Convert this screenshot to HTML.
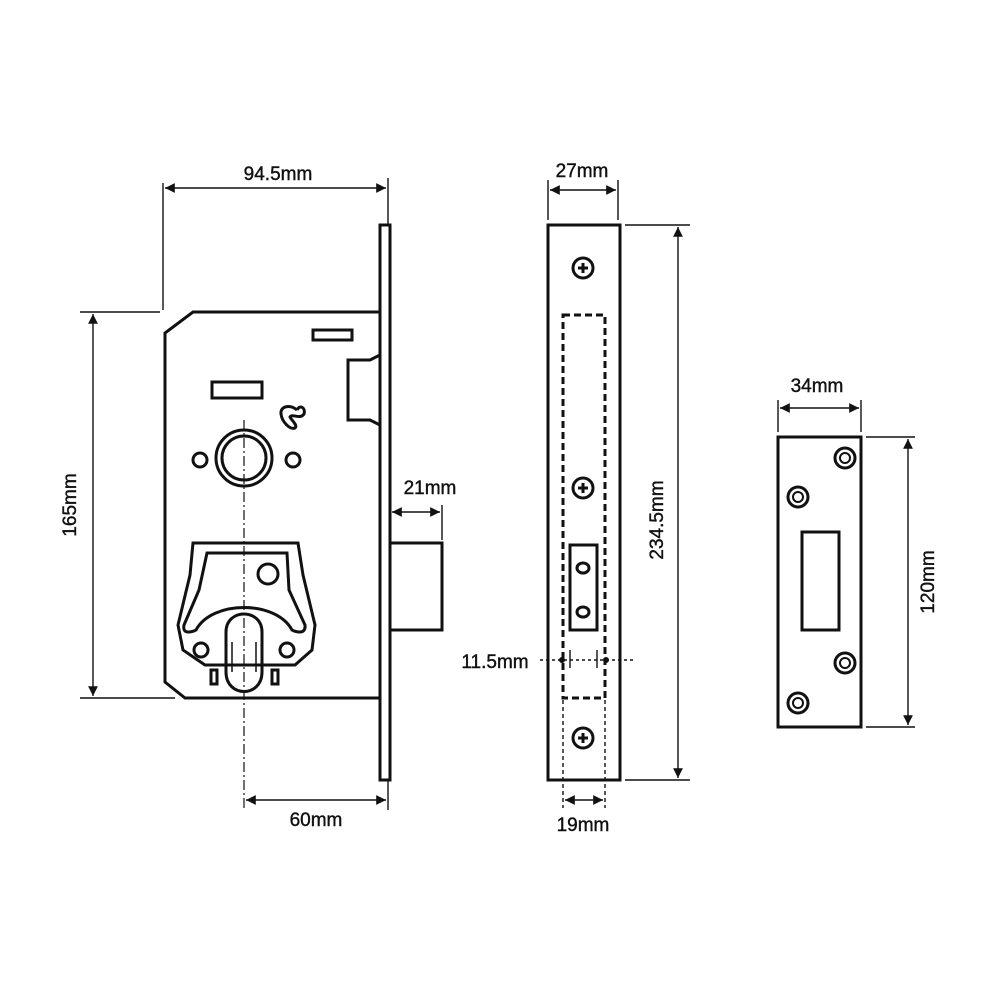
<!DOCTYPE html>
<html><head><style>body{margin:0;background:#fff}svg{display:block}text{font-family:"Liberation Sans",sans-serif;font-size:19px;fill:#111;stroke:#111;stroke-width:0.4}</style></head>
<body>
<svg width="1000" height="1000" viewBox="0 0 1000 1000" xmlns="http://www.w3.org/2000/svg">
<defs><marker id="a" viewBox="0 0 10 10" refX="10" refY="5" markerWidth="9" markerHeight="7" orient="auto-start-reverse"><path d="M0,0L10,5L0,10z" fill="#111"/></marker></defs>
<g fill="none" stroke="#111" stroke-width="3">
<path d="M193,312 H380 V698 H185 L165,682 V333 Z"/>
<rect x="380" y="225" width="10" height="555"/>
<path d="M380,355 L370,360 H348 V420 H370 L380,425"/>
<rect x="390" y="543" width="52" height="87"/>
<rect x="313" y="330" width="39" height="10"/>
<rect x="212" y="382" width="50" height="16"/>
<circle cx="244" cy="458" r="28"/><circle cx="244" cy="458" r="22"/>
<circle cx="200" cy="460" r="7"/><circle cx="293" cy="460" r="7"/>
<path d="M297,410 C290,404 280,406 281,414 C282,422 290,430 295,428 C298,425 292,421 290,417 C292,413 300,420 304,414 C306,408 300,404 297,410"/>
<path d="M193,543 H298 L303,575 L315,625 L312,650 L295,665 L230,665 L205,665 L183,650 L178,625 L190,575 Z"/>
<path d="M207,553 H287 L289,590 L305,625 C306,635 296,632 292,630 C276,600 212,600 196,630 C192,632 182,635 184,625 L199,590 Z"/>
<rect x="211" y="670" width="6" height="14"/><rect x="272" y="670" width="6" height="14"/>
<circle cx="268" cy="574" r="10"/>
<circle cx="201" cy="650" r="7"/><circle cx="287" cy="650" r="7"/>
<path d="M226,632 C226,608 262,608 262,632 V672 C262,698 226,698 226,672 Z"/>
<path d="M232,642 V672 M256,642 V672" stroke-width="1.5"/>
<rect x="548" y="225" width="72" height="555"/>
<rect x="563" y="315" width="42" height="383" stroke-dasharray="7,4"/>
<rect x="570" y="545" width="27" height="85"/>
<ellipse cx="583" cy="568" rx="6" ry="5"/><ellipse cx="583" cy="612" rx="6" ry="5"/>
<circle cx="583" cy="268" r="10"/><circle cx="583" cy="488" r="10"/><circle cx="583" cy="738" r="10"/>
<rect x="778" y="437" width="83" height="290"/>
<rect x="802" y="532" width="37" height="98"/>
<circle cx="845" cy="458" r="10"/><circle cx="798" cy="497" r="10"/><circle cx="845" cy="663" r="10"/><circle cx="798" cy="703" r="10"/>
<path d="M578,268h10M583,263v10M578,488h10M583,483v10M578,738h10M583,733v10"/>
</g>
<g fill="none" stroke="#111" stroke-width="2">
<circle cx="845" cy="458" r="5"/><circle cx="798" cy="497" r="5"/><circle cx="845" cy="663" r="5"/><circle cx="798" cy="703" r="5"/>
</g>
<path d="M244,420 V810" stroke="#111" stroke-width="1.2" stroke-dasharray="10,3,2,3" fill="none"/>
<g stroke="#111" stroke-width="1.4" fill="none">
<path d="M163,183 V310 M388,178 V225"/>
<path d="M165,188 H386" marker-start="url(#a)" marker-end="url(#a)"/>
<path d="M80,312 H160 M80,698 H175"/>
<path d="M93,314 V696" marker-start="url(#a)" marker-end="url(#a)"/>
<path d="M388,780 V810"/>
<path d="M246,800 H386" marker-start="url(#a)" marker-end="url(#a)"/>
<path d="M442,505 V540"/>
<path d="M392,512 H440" marker-start="url(#a)" marker-end="url(#a)"/>
<path d="M548,180 V220 M618,180 V220"/>
<path d="M550,190 H616" marker-start="url(#a)" marker-end="url(#a)"/>
<path d="M625,225 H690 M625,780 H690"/>
<path d="M678,227 V778" marker-start="url(#a)" marker-end="url(#a)"/>
<path d="M563,700 V808 M605,700 V808" stroke-dasharray="4,3"/>
<path d="M565,800 H603" marker-start="url(#a)" marker-end="url(#a)"/>
<path d="M540,660 H635" stroke-dasharray="3,3"/>
<path d="M570,650 V668 M597,650 V668"/>
<path d="M778,400 V432 M861,400 V432"/>
<path d="M780,408 H859" marker-start="url(#a)" marker-end="url(#a)"/>
<path d="M866,437 H915 M866,727 H915"/>
<path d="M908,439 V725" marker-start="url(#a)" marker-end="url(#a)"/>
</g>
<circle cx="562" cy="660" r="3" fill="#111"/><circle cx="606" cy="660" r="3" fill="#111"/>
<text x="278" y="180" text-anchor="middle">94.5mm</text>
<text x="76" y="505" text-anchor="middle" transform="rotate(-90 76 505)">165mm</text>
<text x="316" y="826" text-anchor="middle">60mm</text>
<text x="430" y="494" text-anchor="middle">21mm</text>
<text x="582" y="177" text-anchor="middle">27mm</text>
<text x="663" y="520" text-anchor="middle" transform="rotate(-90 663 520)">234.5mm</text>
<text x="495" y="668" text-anchor="middle">11.5mm</text>
<text x="583" y="831" text-anchor="middle">19mm</text>
<text x="817" y="392" text-anchor="middle">34mm</text>
<text x="934" y="582" text-anchor="middle" transform="rotate(-90 934 582)">120mm</text>
</svg>
</body></html>
